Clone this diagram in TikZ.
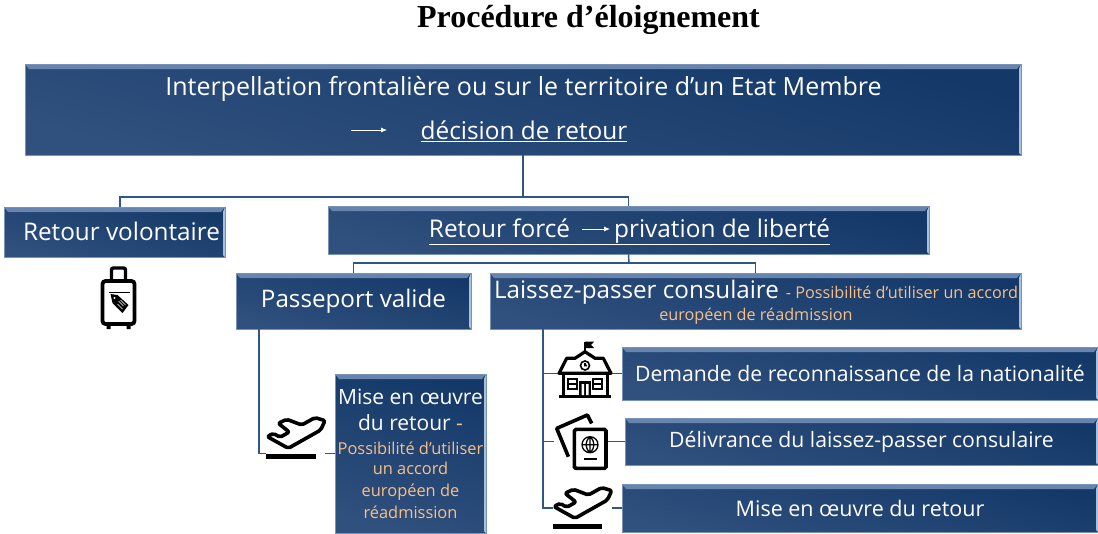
\documentclass[tikz,border=0pt]{standalone}
\usepackage{fontspec}
\setmainfont{Open Sans}
\newfontfamily\titlefont{Liberation Serif}
\usepackage{xcolor}
\usetikzlibrary{arrows.meta,positioning}
\definecolor{boxdark}{HTML}{143969}
\definecolor{boxmid}{HTML}{1E4273}
\definecolor{boxlight}{HTML}{30507D}
\definecolor{bevtop}{HTML}{6684AE}
\definecolor{bevright}{HTML}{A9C0DC}
\definecolor{linkblue}{HTML}{2F5685}
\definecolor{softorange}{HTML}{F9BF85}
\newcommand{\Sorange}[1]{\textcolor{softorange}{#1}}
\newcommand{\Sfont}[1]{\fontsize{#1}{#1}\selectfont}
\tikzset{
  bluebox/.style={rectangle,draw=bevright!60!boxlight,line width=0.6pt,inner sep=0pt,
    left color=boxlight,middle color=boxmid,right color=boxdark,shading angle=165,
    text=white,align=center,
    path picture={
      \fill[bevtop] (path picture bounding box.north west) -- (path picture bounding box.north east)
        -- ([xshift=-4pt,yshift=-5pt]path picture bounding box.north east)
        -- ([xshift=4pt,yshift=-5pt]path picture bounding box.north west) -- cycle;
      \fill[bevright] (path picture bounding box.north east) -- (path picture bounding box.south east)
        -- ([xshift=-2pt,yshift=2pt]path picture bounding box.south east)
        -- ([xshift=-2pt,yshift=-5pt]path picture bounding box.north east) -- cycle;
    }},
  link/.style={draw=linkblue,line width=1.4pt},
  whitearrow/.style={-{Latex[length=6pt,width=5pt]},draw=white,line width=0.8pt},
  iconback/.style={rectangle,fill=white,inner sep=0pt},
  planeicon/.pic={
    \draw[black,line width=3.6pt,rounded corners=2pt,line join=round]
      (-28.7,3.3) -- (-7.7,15) -- (24.7,-3.3) -- (29,-12.7) -- (19,-15.7) -- (5.7,-8.3)
      -- (-9.3,-14) -- (-17.7,-10) -- (-6.7,-1.3) -- (-16,4) -- (-22.7,0) -- cycle;
    \fill[black] (-30,21) rectangle (19.7,26);
  },
  caseicon/.pic={
    \draw[black,line width=3.8pt,rounded corners=3pt] (-16,-22) rectangle (16,21);
    \draw[black,line width=3.4pt,rounded corners=2pt] (-7,-22) -- (-7,-35) -- (7,-35) -- (7,-22);
    \fill[black] (-12,22) rectangle (-8,26) (8,22) rectangle (12,26);
    \draw[black,line width=1.5pt] (-10,-10.3) -- (11,-10.3);
    \fill[black] (-8,-9) -- (-1,-8) -- (10,2) -- (4,10) -- (-6,0) -- cycle;
    \fill[white] (-4,-5) circle (1.2);
    \draw[white,line width=0.5pt] (0,-2) -- (5,3) (-1,1) -- (4,6) (2,-3) -- (7,2);
  },
  schoolicon/.pic={
    \draw[black,line width=3.2pt,line join=round] (-26,3.3) -- (-18.3,-11.7) -- (-10,-11.7)
      -- (0,-18.3) -- (10,-11.7) -- (18.3,-11.7) -- (26,3.3) -- cycle;
    \draw[black,line width=2.4pt] (0,-18) -- (0,-28.3);
    \fill[black] (0,-28.3) -- (9,-28.3) -- (6,-25) -- (9,-22) -- (0,-22) -- cycle;
    \draw[black,line width=1.6pt] (0,-4.5) circle (4.5) (0,-7) -- (0,-4.5) -- (2,-4.5);
    \draw[black,line width=3pt] (-22,3.3) -- (-22,25) (22,3.3) -- (22,25);
    \fill[black] (-26,24.5) rectangle (26,28);
    \draw[black,line width=2pt] (-17,9) rectangle (-8,19) (8,9) rectangle (17,19) (-17,14) -- (-8,14) (8,14) -- (17,14);
    \fill[black] (-6,11) rectangle (6,25);
    \fill[white] (-3.5,14) rectangle (-1,25) (1,14) rectangle (3.5,25);
  },
  passporticon/.pic={
    \draw[black,line width=3.6pt,line join=round] (-13.3,15) -- (-25,-13.3) -- (5.7,-26.7) -- (10,-18.3);
    \draw[black,line width=3.6pt,rounded corners=1.5pt,fill=white] (-7.3,-12.3) rectangle (24.3,26.7);
    \draw[black,line width=1.3pt] (8.3,3) circle (8) (0.3,3) -- (16.3,3) (8.3,-5) -- (8.3,11)
      (8.3,-5) .. controls (3,0) and (3,6) .. (8.3,11) (8.3,-5) .. controls (13.6,0) and (13.6,6) .. (8.3,11);
    \draw[black,line width=1.6pt] (2.3,17) -- (15,17);
  }
}
\begin{document}
\begin{tikzpicture}[x=1pt,y=-1pt]
\useasboundingbox (0,0) rectangle (1098,533);
\node (title) [font=\titlefont\bfseries\Sfont{32}] at (588.5,20) {Procédure d’éloignement};
% boxes
\node (top) [bluebox,minimum width=996pt,minimum height=91pt] at (523,109.5) {};
\node (volontaire) [bluebox,minimum width=221pt,minimum height=50pt,font=\Sfont{24.3}] at (114.5,232) {\hspace*{14pt}\raisebox{2pt}{Retour volontaire}};
\node (force) [bluebox,minimum width=601pt,minimum height=48pt] at (628.5,230) {};
\node (passeport) [bluebox,minimum width=235pt,minimum height=56pt,font=\Sfont{24.2}] at (353.5,301) {Passeport valide};
\node (laissez) [bluebox,minimum width=531pt,minimum height=56pt] at (755.5,301) {};
\node (retourleft) [bluebox,minimum width=151pt,minimum height=159pt] at (410.5,453.5)
  {\Sfont{21}Mise en œuvre\\[9pt]\Sfont{21}du retour \Sorange{-}\\[10pt]
   \color{softorange}\Sfont{16.4}Possibilité d’utiliser\\[7pt]\Sfont{16.4}\color{softorange}un accord\\[8pt]
   \Sfont{16.4}\color{softorange}européen de\\[4pt]\Sfont{16.4}\color{softorange}réadmission};
\node (demande) [bluebox,minimum width=476pt,minimum height=53pt,font=\Sfont{21.2}] at (860,373.5) {Demande de reconnaissance de la nationalité};
\node (delivrance) [bluebox,minimum width=473pt,minimum height=47pt,font=\Sfont{21.2}] at (861.5,441.5) {Délivrance du laissez-passer consulaire};
\node (retourright) [bluebox,minimum width=476pt,minimum height=48pt,font=\Sfont{21.5}] at (860,508) {Mise en œuvre du retour};
% texts of the boxes
\node (interpellation) [text=white,font=\Sfont{25}] at (523.5,88.5) {Interpellation frontalière ou sur le territoire d’un Etat Membre};
\node (decision) [text=white,font=\Sfont{24.4}] at (524,131) {\underline{décision de retour}};
\node (liberte) [text=white,font=\Sfont{24.4}] at (629.5,232) {\underline{Retour forcé\hspace{44pt}privation de liberté}};
\node (consulaire) [text=white,font=\Sfont{24.2}] at (636.5,292) {Laissez-passer consulaire};
\node (accord) [text=softorange,font=\Sfont{16.2}] at (902,292) {- Possibilité d’utiliser un accord};
\node (europeen) [text=softorange,font=\Sfont{16.2}] at (756,316) {européen de réadmission};
% arrows in the boxes
\coordinate (a1) at (351,130);
\coordinate (a2) at (387,130);
\coordinate (b1) at (582,229);
\coordinate (b2) at (610,229);
\draw[whitearrow] (a1) -- (a2);
\draw[whitearrow] (b1) -- (b2);
% connectors
\coordinate (fork1) at (523,197);
\coordinate (fork2) at (629,263);
\draw[link] (top.south) -- (fork1);
\draw[link] (fork1) -| ([xshift=5.5pt]volontaire.north);
\draw[link] (fork1) -| (force.north);
\draw[link] (force.south) -- (fork2);
\draw[link] (fork2) -| (passeport.north);
\draw[link] (fork2) -| (laissez.north);
\draw[link] ([xshift=-94.5pt]passeport.south) |- (retourleft.west);
\draw[link] ([xshift=-212.5pt]laissez.south) |- (demande.west);
\draw[link] ([xshift=-212.5pt]laissez.south) |- (delivrance.west);
\draw[link] ([xshift=-212.5pt]laissez.south) |- (retourright.west);
% icons
\node (caseback) [iconback,minimum width=44pt,minimum height=66pt] at (118.5,298) {};
\node (planeback1) [iconback,minimum width=59pt,minimum height=50pt] at (295.5,437) {};
\node (schoolback) [iconback,minimum width=54pt,minimum height=60pt] at (585,370) {};
\node (passback) [iconback,minimum width=54pt,minimum height=58pt] at (581,442) {};
\node (planeback2) [iconback,minimum width=59pt,minimum height=46pt] at (582.5,508) {};
\pic at (118.5,303) {caseicon};
\pic at (296,433.3) {planeicon};
\pic at (585,370) {schoolicon};
\pic at (581.7,441.7) {passporticon};
\pic at (582.7,503.3) {planeicon};
\end{tikzpicture}
\end{document}
